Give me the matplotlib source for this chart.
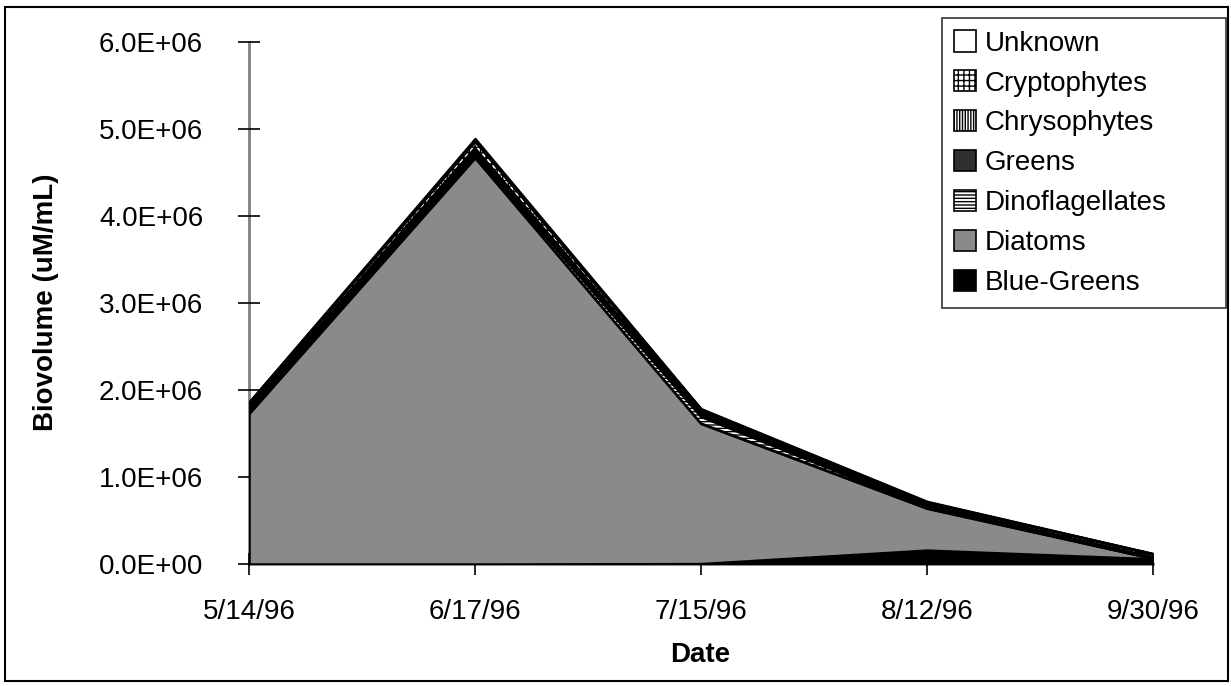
import numpy as np
import matplotlib.pyplot as plt
from matplotlib.patches import Rectangle, Patch
from matplotlib.ticker import FuncFormatter

plt.rcParams['font.family'] = ['Liberation Sans', 'DejaVu Sans']
plt.rcParams['hatch.linewidth'] = 1.0

dates = ['5/14/96', '6/17/96', '7/15/96', '8/12/96', '9/30/96']

# biovolume per group, stacked bottom to top
blue_greens = [0.0, 0.0, 0.005e6, 0.16e6, 0.06e6]
diatoms = [1.73e6, 4.67e6, 1.61e6, 0.48e6, 0.005e6]
dinoflagellates = [0.03e6, 0.03e6, 0.08e6, 0.01e6, 0.0]
greens = [0.03e6, 0.04e6, 0.03e6, 0.02e6, 0.01e6]
chrysophytes = [0.02e6, 0.04e6, 0.02e6, 0.01e6, 0.005e6]
cryptophytes = [0.04e6, 0.08e6, 0.03e6, 0.03e6, 0.035e6]
unknown = [0.01e6, 0.03e6, 0.01e6, 0.01e6, 0.005e6]

groups = ['Blue-Greens', 'Diatoms', 'Dinoflagellates', 'Greens',
          'Chrysophytes', 'Cryptophytes', 'Unknown']
series = [blue_greens, diatoms, dinoflagellates, greens,
          chrysophytes, cryptophytes, unknown]
styles = [
    dict(facecolor='black', hatch=None),
    dict(facecolor='#8a8a8a', hatch=None),
    dict(facecolor='white', hatch='-----'),
    dict(facecolor='#303030', hatch=None),
    dict(facecolor='white', hatch='||||||'),
    dict(facecolor='white', hatch='+++'),
    dict(facecolor='white', hatch=None),
]

fig = plt.figure(figsize=(12.31, 6.86), dpi=100)
ax = fig.add_axes([0.2023, 0.1778, 0.7343, 0.761])

x = np.arange(len(dates))
base = np.zeros(len(dates))
for vals, st in zip(series, styles):
    top = base + np.array(vals)
    ax.fill_between(x, base, top, facecolor=st['facecolor'], hatch=st['hatch'],
                    edgecolor='black', linewidth=1.8, zorder=2)
    base = top

ax.set_xlim(0, len(dates) - 1)
ax.set_ylim(0, 6e6)
ax.set_yticks(np.arange(0, 6.1e6, 1e6))
ax.yaxis.set_major_formatter(FuncFormatter(lambda v, p: f'{v:.1E}'))
ax.set_xticks(x)
ax.set_xticklabels(dates)

for s in ['top', 'right']:
    ax.spines[s].set_visible(False)
for s in ['left', 'bottom']:
    ax.spines[s].set_color('#808080')
    ax.spines[s].set_linewidth(2)
    ax.spines[s].set_zorder(1)

ax.tick_params(axis='both', direction='inout', length=16, width=1.2,
               color='black', labelsize=20)
ax.tick_params(axis='y', pad=25)
ax.tick_params(axis='x', pad=17)

fig.text(0.037, 0.56, 'Biovolume (uM/mL)', rotation=90, ha='center', va='center',
         fontsize=20, fontweight='bold')
fig.text(0.569, 0.045, 'Date', ha='center', va='center',
         fontsize=20, fontweight='bold')

handles = [Patch(facecolor=st['facecolor'], hatch=st['hatch'], edgecolor='black',
                 linewidth=1.2) for st in styles]
leg = ax.legend(handles[::-1], groups[::-1], loc='upper left', mode='expand',
                bbox_to_anchor=(0.765, 0.55, 0.231, 0.424), bbox_transform=fig.transFigure,
                fontsize=20, frameon=True, fancybox=False, edgecolor='black',
                handlelength=0.8, handleheight=0.8, handletextpad=0.3,
                labelspacing=0.49, borderpad=0.45, borderaxespad=0)
leg.get_frame().set_linewidth(1.2)

fig.patches.append(Rectangle((0.004, 0.0073), 0.9935, 0.9825, transform=fig.transFigure,
                             fill=False, edgecolor='black', linewidth=1.5))

fig.savefig('out.png', dpi=100)
